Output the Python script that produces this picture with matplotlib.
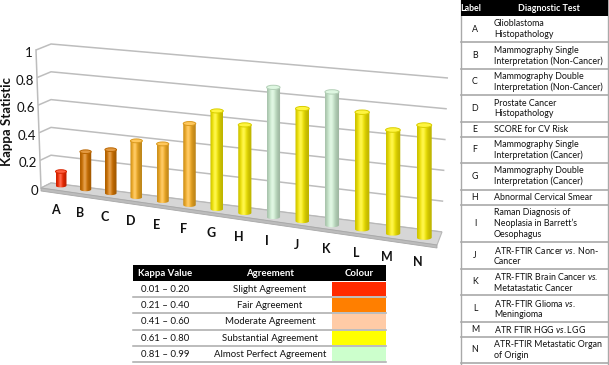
import numpy as np
import matplotlib
matplotlib.use('Agg')
import matplotlib.pyplot as plt
from matplotlib.patches import Polygon, Ellipse, Rectangle
import matplotlib.colors as mcolors

plt.rcParams['font.family'] = ['Lato', 'DejaVu Sans']
plt.rcParams['mathtext.fontset'] = 'custom'
plt.rcParams['mathtext.rm'] = 'Lato'
plt.rcParams['mathtext.it'] = 'Lato:italic'
plt.rcParams['mathtext.bf'] = 'Lato:bold'

# ---------------- data ----------------
labels = list('ABCDEFGHIJKLMN')
kappa = [0.11, 0.29, 0.33, 0.42, 0.42, 0.59, 0.70, 0.62, 0.90, 0.77, 0.90, 0.78, 0.68, 0.73]
y_ticks = [0, 0.2, 0.4, 0.6, 0.8, 1.0]
y_tick_labels = ['0', '0.2', '0.4', '0.6', '0.8', '1']
y_label = 'Kappa Statistic'

tests = [
    'Glioblastoma\nHistopathology',
    'Mammography Single\nInterpretation (Non-Cancer)',
    'Mammography Double\nInterpretation (Non-Cancer)',
    'Prostate Cancer\nHistopathology',
    'SCORE for CV Risk',
    'Mammography Single\nInterpretation (Cancer)',
    'Mammography Double\nInterpretation (Cancer)',
    'Abnormal Cervical Smear',
    'Raman Diagnosis of\nNeoplasia in Barrett\u2019s\nOesophagus',
    'ATR-FTIR Cancer $\\it{vs.}$ Non-\nCancer',
    'ATR-FTIR Brain Cancer $\\it{vs.}$\nMetatastatic Cancer',
    'ATR-FTIR Glioma $\\it{vs.}$\nMeningioma',
    'ATR FTIR HGG $\\it{vs.}$LGG',
    'ATR-FTIR Metastatic Organ\nof Origin',
]

kappa_ranges = ['0.01 \u2013 0.20', '0.21 \u2013 0.40', '0.41 \u2013 0.60',
                '0.61 \u2013 0.80', '0.81 \u2013 0.99']
agreements = ['Slight Agreement', 'Fair Agreement', 'Moderate Agreement',
              'Substantial Agreement', 'Almost Perfect Agreement']
upper_bounds = [0.20, 0.40, 0.60, 0.80, 0.99]
table_colours = ['#FF2B00', '#FF7F00', '#FFCBA6', '#FFFF00', '#CCFFCC']
bar_colours = ['#FF2A00', '#DA7700', '#FFB424', '#FFF200', '#D3F4D7']

# ---------------- figure ----------------
fig = plt.figure(figsize=(6.09, 3.65), dpi=100)
ax = fig.add_axes([0, 0, 1, 1])
ax.set_axis_off()

GRID = '#bdbdbd'

# pseudo-3D geometry helpers (pixel space)
def back_wall(u, v):
    x = 51 + u * (442 - 51) + v * u * 6
    y0 = 183 + u * (232 - 183)
    y1 = 44 + u * (78 - 44)
    return x, y0 + v * (y1 - y0)

def left_edge(v):
    return 41 - 5 * v, 188 - 138 * v

def bar_geom(i):
    x = 61 + 24.3 * i + 0.28 * i ** 2
    y = 185.6 + 3.8 * i + 0.015 * i ** 2
    s = 128 + 2.0 * i
    w = 11 + 4 * i / 13
    e = 3.6 + 0.08 * i
    return x, y, s, w, e

# gridlines on back and left walls
for v in y_ticks:
    bx0, by0 = back_wall(0, v)
    bx1, by1 = back_wall(1, v)
    fx, fy = left_edge(v)
    ax.plot([fx, bx0, bx1], [fy, by0, by1], color=GRID, lw=1.1, zorder=1,
            solid_capstyle='butt')
fx0, fy0 = left_edge(0)
fx1, fy1 = left_edge(1)
ax.plot([fx0, fx1], [fy0, fy1], color=GRID, lw=1.1, zorder=1)

for v, t in zip(y_ticks, y_tick_labels):
    fx, fy = left_edge(v)
    ax.text(fx - 3, fy + 3, t, ha='right', va='center', fontsize=9.5, color='#111111')

ax.text(7, 121, y_label, rotation=90, ha='center', va='center',
        fontsize=9.5, fontweight='bold', color='#111111')

# floor
bl = back_wall(0, 0)
br = back_wall(1, 0)
fl = left_edge(0)
fr = (437, 245)
ax.add_patch(Polygon([bl, br, fr, fl], closed=True, facecolor='#d6d6d6',
                     edgecolor='#b8b8b8', lw=0.8, zorder=2))
ax.add_patch(Polygon([fl, fr, (fr[0], fr[1] + 3), (fl[0], fl[1] + 3)], closed=True,
                     facecolor='#bcbcbc', edgecolor='#a8a8a8', lw=0.6, zorder=2))

# bars
def colour_for(v):
    for ub, c in zip(upper_bounds, bar_colours):
        if v <= ub:
            return c
    return bar_colours[-1]

def cylinder(xc, yb, h, w, e, color, z):
    base = np.array(mcolors.to_rgb(color))
    xl, xr = xc - w / 2, xc + w / 2
    yt = yb - h
    t = np.linspace(np.pi, 0, 40)
    bx = xc + (w / 2) * np.cos(t)
    by = yb + (e / 2) * np.sin(t)
    verts = [(xl, yt)] + list(zip(bx, by)) + [(xr, yt)]
    body = Polygon(verts, closed=True, facecolor='none', edgecolor='none', zorder=z)
    ax.add_patch(body)
    tt = np.linspace(0, 1, 64)
    g = np.exp(-((tt - 0.4) / 0.32) ** 2)
    shade = 0.74 + 0.26 * g
    rgb = base[None, :] * shade[:, None] + (1 - base[None, :]) * 0.3 * (g[:, None] ** 4)
    img = ax.imshow(np.clip(rgb, 0, 1)[None, :, :], extent=[xl, xr, yb + e / 2 + 1, yt],
                    aspect='auto', interpolation='bilinear', zorder=z)
    img.set_clip_path(body)
    top = base * 0.75 + 0.25
    ax.add_patch(Ellipse((xc, yt), w, e, facecolor=top, edgecolor=base * 0.85,
                         lw=0.7, zorder=z + 0.1))

for i, (lab, v) in enumerate(zip(labels, kappa)):
    xc, yb, s, w, e = bar_geom(i)
    cylinder(xc, yb, v * s, w, e, colour_for(v), 3 + i * 0.2)
    ax.text(xc - 6, yb + 24, lab, ha='center', va='center', fontsize=9,
            fontweight='bold', color='#111111')

# ---------------- right table ----------------
tx0, tx1 = 461, 608
hdr_h = 16
FS_R = 6.4
ax.add_patch(Rectangle((tx0, 0), tx1 - tx0, hdr_h, facecolor='black',
                       edgecolor='none', zorder=5))
ax.text(471, hdr_h / 2 + 0.5, 'Label', color='white', fontweight='bold', fontsize=FS_R,
        ha='center', va='center', zorder=6)
ax.text(549, hdr_h / 2 + 0.5, 'Diagnostic Test', color='white', fontweight='bold',
        fontsize=FS_R, ha='center', va='center', zorder=6)
yy = hdr_h
for lab, test in zip(labels, tests):
    n = test.count('\n') + 1
    h = 4 + 11.2 * n
    ax.text(475, yy + h / 2, lab, ha='center', va='center', fontsize=FS_R, color='#111111')
    ax.text(494, yy + h / 2, test, ha='left', va='center', fontsize=FS_R,
            linespacing=1.2, color='#111111')
    yy += h
    ax.plot([tx0, tx1], [yy, yy], color='#a9a9a9', lw=1.2, zorder=4)
ax.plot([tx0, tx0], [0, 365], color='#a9a9a9', lw=1.0, zorder=4)
ax.plot([tx1, tx1], [0, 365], color='#a9a9a9', lw=1.0, zorder=4)

# ---------------- bottom table ----------------
bx0, bx1 = 133, 386
by0 = 265
rh = 16.2
FS_B = 6.9
ax.add_patch(Rectangle((bx0, by0), bx1 - bx0, 16, facecolor='black', edgecolor='none',
                       zorder=5))
ax.text(165, by0 + 8.5, 'Kappa Value', color='white', fontweight='bold', fontsize=FS_B,
        ha='center', va='center', zorder=6)
ax.text(270, by0 + 8.5, 'Agreement', color='white', fontweight='bold', fontsize=FS_B,
        ha='center', va='center', zorder=6)
ax.text(359, by0 + 8.5, 'Colour', color='white', fontweight='bold', fontsize=FS_B,
        ha='center', va='center', zorder=6)
ry = by0 + 16
for kr, ag, col in zip(kappa_ranges, agreements, table_colours):
    ax.text(165, ry + rh / 2 + 0.5, kr, ha='center', va='center', fontsize=FS_B, color='#111111')
    ax.text(270, ry + rh / 2 + 0.5, ag, ha='center', va='center', fontsize=FS_B, color='#111111')
    ax.add_patch(Rectangle((332, ry + 1), bx1 - 332, rh - 2, facecolor=col,
                           edgecolor='none', zorder=3))
    ry += rh
    ax.plot([bx0, bx1], [ry, ry], color='#a9a9a9', lw=1.1, zorder=4)

ax.set_xlim(0, 609)
ax.set_ylim(365, 0)
fig.savefig('out.png', dpi=100, facecolor='white')
